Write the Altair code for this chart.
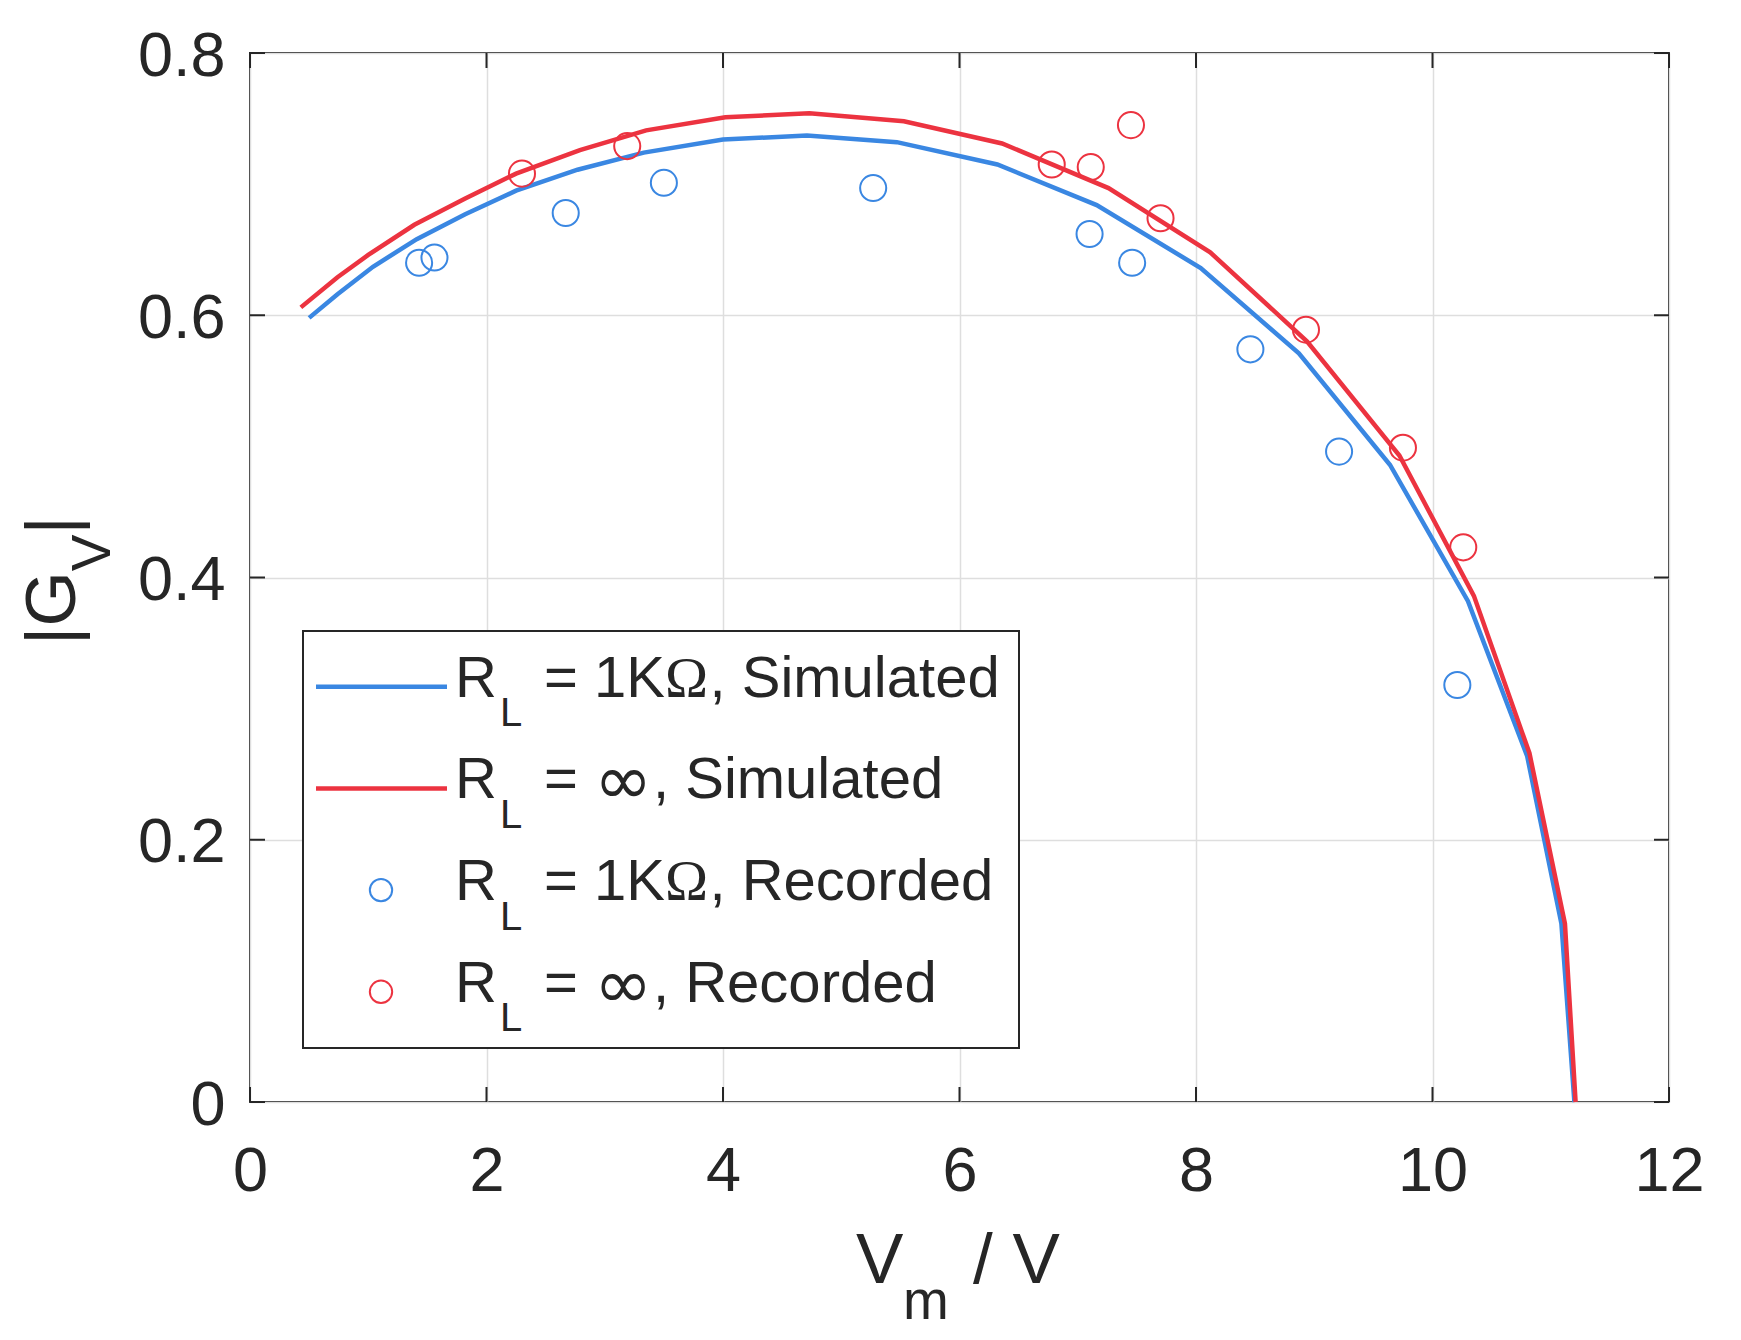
import altair as alt
import pandas as pd

# ── data ─────────────────────────────────────────────────────────────
# simulated curves (V_m in volts, |G_V|)
sim_1k_v = [0.50, 0.74, 1.04, 1.41, 1.82, 2.25, 2.77, 3.33, 4.00, 4.71,
            5.47, 6.32, 7.16, 8.04, 8.87, 9.64, 10.30, 10.80, 11.09, 11.20]
sim_1k_g = [0.598, 0.616, 0.637, 0.658, 0.677, 0.695, 0.711, 0.724, 0.734, 0.737,
            0.732, 0.715, 0.684, 0.636, 0.571, 0.486, 0.382, 0.264, 0.136, 0.0]
sim_inf_v = [0.43, 0.74, 1.00, 1.39, 1.82, 2.25, 2.79, 3.35, 4.02, 4.73,
             5.53, 6.36, 7.26, 8.12, 8.94, 9.72, 10.35, 10.82, 11.12, 11.21]
sim_inf_g = [0.606, 0.629, 0.646, 0.669, 0.689, 0.708, 0.726, 0.741, 0.751, 0.754,
             0.748, 0.731, 0.697, 0.648, 0.580, 0.493, 0.386, 0.266, 0.136, 0.0]

# recorded points
rec_1k_v = [1.43, 1.56, 2.67, 3.50, 5.27, 7.10, 7.46, 8.46, 9.21, 10.21]
rec_1k_g = [0.640, 0.644, 0.678, 0.701, 0.697, 0.662, 0.640, 0.574, 0.496, 0.318]
rec_inf_v = [2.30, 3.19, 6.78, 7.11, 7.45, 7.70, 8.93, 9.75, 10.26]
rec_inf_g = [0.708, 0.729, 0.715, 0.713, 0.745, 0.674, 0.589, 0.499, 0.423]

x_ticks = [0, 2, 4, 6, 8, 10, 12]
y_ticks = [0, 0.2, 0.4, 0.6, 0.8]

# legend label pieces: load value, symbol, kind
legend_load = ["= 1K", "= ", "= 1K", "= "]
legend_sym = ["Ω", "∞", "Ω", "∞"]
legend_kind = [", Simulated", ", Simulated", ", Recorded", ", Recorded"]

# ── style ────────────────────────────────────────────────────────────
W, H = 1419, 1049
BLUE = "#3a87e2"
RED = "#ec3340"
INK = "#262626"
GRID = "#dedede"
FONT = "Liberation Sans"

x_scale = alt.Scale(domain=[0, 12], nice=False)
y_scale = alt.Scale(domain=[0, 0.8], nice=False)
x_axis = alt.Axis(values=x_ticks, title=None, labelPadding=38, format="~g")
y_axis = alt.Axis(values=y_ticks, title=None, labelPadding=25, labelOffset=3,
                  format="~g")


def xy(chart):
    return chart.encode(
        x=alt.X("v:Q", scale=x_scale, axis=x_axis),
        y=alt.Y("g:Q", scale=y_scale, axis=y_axis),
    )


one = pd.DataFrame({"k": [0]})


def label(text, x, y, size, angle=0, font=FONT):
    kw = {"angle": angle} if angle else {}
    return alt.Chart(one).mark_text(
        align="left", baseline="alphabetic", font=font, fontSize=size,
        color=INK, **kw
    ).encode(x=alt.value(x), y=alt.value(y), text=alt.value(text))


# ── data layers ──────────────────────────────────────────────────────
line_1k = xy(alt.Chart(pd.DataFrame({"v": sim_1k_v, "g": sim_1k_g}))
             .mark_line(color=BLUE, strokeWidth=4.5))
line_inf = xy(alt.Chart(pd.DataFrame({"v": sim_inf_v, "g": sim_inf_g}))
              .mark_line(color=RED, strokeWidth=4.5))
pts_1k = xy(alt.Chart(pd.DataFrame({"v": rec_1k_v, "g": rec_1k_g}))
            .mark_point(shape="circle", filled=False, color=BLUE,
                        size=680, strokeWidth=2, opacity=1))
pts_inf = xy(alt.Chart(pd.DataFrame({"v": rec_inf_v, "g": rec_inf_g}))
             .mark_point(shape="circle", filled=False, color=RED,
                         size=680, strokeWidth=2, opacity=1))

# ── inward ticks on all four sides (matlab box style) ────────────────
xt = pd.DataFrame({"v": x_ticks})
yt = pd.DataFrame({"g": y_ticks})
tick_layers = []
for y0, y1 in [(H, H - 15), (0, 15)]:
    tick_layers.append(
        alt.Chart(xt).mark_rule(color=INK, strokeWidth=2).encode(
            x=alt.X("v:Q", scale=x_scale, axis=x_axis),
            y=alt.value(y0), y2=alt.value(y1)))
for x0, x1 in [(0, 15), (W, W - 15)]:
    tick_layers.append(
        alt.Chart(yt).mark_rule(color=INK, strokeWidth=2).encode(
            y=alt.Y("g:Q", scale=y_scale, axis=y_axis),
            x=alt.value(x0), x2=alt.value(x1)))

# ── legend (hand built for the subscripts) ───────────────────────────
ROW0, STEP = 643.7, 101.7
legend = [
    alt.Chart(one).mark_rect(fill="white", stroke=INK, strokeWidth=2).encode(
        x=alt.value(53), x2=alt.value(769), y=alt.value(578), y2=alt.value(995))
]
for i, col in enumerate([BLUE, RED]):
    yy = ROW0 - 10 + STEP * i
    legend.append(alt.Chart(one).mark_rule(color=col, strokeWidth=4.5).encode(
        x=alt.value(66), x2=alt.value(197), y=alt.value(yy)))
for i, col in enumerate([BLUE, RED], start=2):
    yy = ROW0 - 10 + STEP * i
    legend.append(alt.Chart(one).mark_point(
        shape="circle", filled=False, color=col, size=500, strokeWidth=2,
        opacity=1).encode(x=alt.value(131), y=alt.value(yy)))
for i in range(4):
    yy = ROW0 + STEP * i
    legend += [label("R", 205, yy, 58),
               label("L", 250, yy + 29.5, 40),
               label(legend_load[i], 294, yy, 58)]
    if legend_sym[i] == "Ω":
        legend += [label("Ω", 415, yy, 58, font="Liberation Serif"),
                   label(legend_kind[i], 459.5, yy, 58)]
    else:
        legend += [label("∞", 344, yy + 6, 70, font="DejaVu Sans"),
                   label(legend_kind[i], 403, yy, 58)]

# ── axis titles with subscripts ──────────────────────────────────────
titles = [
    label("V", 606, 1230, 71),
    label("m", 653, 1266, 55),
    label("/ V", 723, 1230, 71),
    label("|G", -175, 592, 71, angle=270),
    label("V", -140, 518.3, 55, angle=270),
    label("|", -175, 481.6, 71, angle=270),
]

chart = (
    alt.layer(line_1k, line_inf, pts_1k, pts_inf, *tick_layers, *legend, *titles)
    .properties(
        width=W, height=H,
        autosize=alt.AutoSizeParams(type="none"),
        padding={"left": 242, "top": 45, "right": 60, "bottom": 236},
        background="white",
    )
    .configure_view(stroke=INK, strokeWidth=2)
    .configure_axis(
        grid=True, gridColor=GRID, gridWidth=1.5, ticks=False, domain=False,
        labelFont=FONT, labelFontSize=63, labelColor=INK, labelFlush=False,
    )
)

chart.save("out.html", embed_options={"renderer": "svg", "actions": False})
